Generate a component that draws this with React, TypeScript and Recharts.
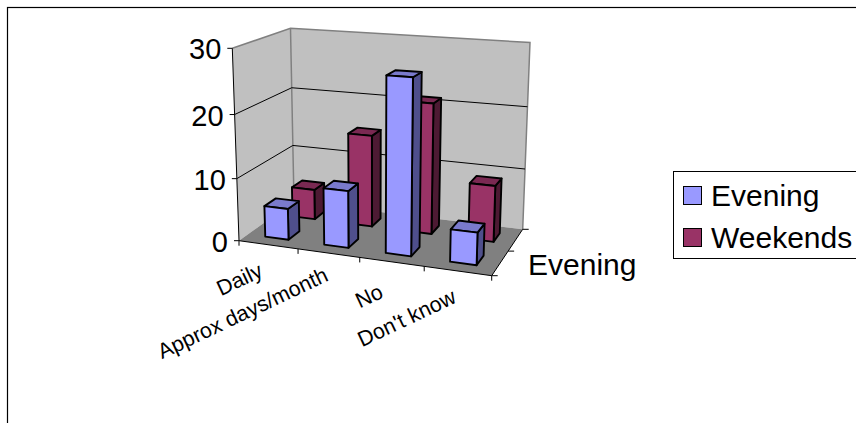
import React from "react";
import { ComposedChart, Bar, XAxis, YAxis, CartesianGrid, Legend } from "recharts";

const categories = ["Daily", "Approx days/month", "No", "Don't know"];
const eveningValues = [5, 9, 27, 5];
const weekendValues = [5, 15, 21, 9];
const valueTicks = [0, 10, 20, 30];
const seriesNames = ["Evening", "Weekends"];

const tableRows = categories.map((name, i) => ({
  name,
  Evening: eveningValues[i],
  Weekends: weekendValues[i],
}));

const W = 856, H = 423;
const PL = 100, PT = 50, PW = 600, PH = 300;
const PB = PT + PH;
const FONT = "'Liberation Sans', Arial, sans-serif";

// perspective frame of the 3-D box
const O = [239, 240.7], FR = [491.7, 275.7], BL = [294, 201.5], TL = [232.3, 48.3];
const A = -0.0851, B = 0.1165, C = -0.0478;

function project(u: number, v: number, w: number): [number, number] {
  const d = 1 + A * u + B * v + C * w;
  const f = (k: number) =>
    (O[k] +
      u * ((1 + A) * FR[k] - O[k]) +
      v * ((1 + B) * BL[k] - O[k]) +
      w * ((1 + C) * TL[k] - O[k])) / d;
  return [f(0), f(1)];
}
const pts = (list: number[][]) =>
  list.map((p) => project(p[0], p[1], p[2]).map((n) => n.toFixed(2)).join(",")).join(" ");

const toU = (x: number) => (x - PL) / PW;
const toW = (y: number) => (PB - y) / PH;

const palette: Record<string, { front: string; side: string; top: string; v0: number; v1: number }> = {
  Evening: { front: "#9999FF", side: "#4F4F8C", top: "#7A7ACC", v0: 0.15, v1: 0.35 },
  Weekends: { front: "#993366", side: "#4D1A33", top: "#7A2952", v0: 0.65, v1: 0.85 },
};

function Box3D(props: any) {
  const { x, y, width, height, dataKey } = props;
  const c = palette[dataKey];
  const u0 = toU(x), u1 = toU(x + width), w1 = toW(y), w0 = toW(y + height);
  const common = { stroke: "#000", strokeWidth: 1.9, strokeLinejoin: "round" as const };
  return (
    <g>
      <polygon points={pts([[u1, c.v0, w0], [u1, c.v1, w0], [u1, c.v1, w1], [u1, c.v0, w1]])} fill={c.side} {...common} />
      <polygon points={pts([[u0, c.v0, w1], [u1, c.v0, w1], [u1, c.v1, w1], [u0, c.v1, w1]])} fill={c.top} {...common} />
      <polygon points={pts([[u0, c.v0, w0], [u1, c.v0, w0], [u1, c.v0, w1], [u0, c.v0, w1]])} fill={c.front} {...common} />
    </g>
  );
}

function Walls() {
  return (
    <g>
      <polygon points={pts([[0, 0, 0], [0, 1, 0], [0, 1, 1], [0, 0, 1]])} fill="#C0C0C0" />
      <polygon points={pts([[0, 1, 0], [1, 1, 0], [1, 1, 1], [0, 1, 1]])} fill="#C0C0C0" />
      <polygon points={pts([[0, 0, 0], [1, 0, 0], [1, 1, 0], [0, 1, 0]])} fill="#808080" />
      <polyline points={pts([[0, 0, 1], [0, 1, 1], [1, 1, 1], [1, 1, 0]])} fill="none" stroke="#808080" strokeWidth={1.5} />
      <line
        x1={project(0, 1, 0)[0]} y1={project(0, 1, 0)[1]}
        x2={project(0, 1, 1)[0]} y2={project(0, 1, 1)[1]}
        stroke="#808080" strokeWidth={1.5}
      />
    </g>
  );
}

function SeriesAxis() {
  const ends = [0, 0.5, 1];
  return (
    <g>
      <polyline points={pts([[1, 0, 0], [1, 1, 0]])} fill="none" stroke="#000" strokeWidth={1} />
      {ends.map((v) => {
        const [px, py] = project(1, v, 0);
        return <line key={v} x1={px} y1={py} x2={px + 6} y2={py} stroke="#000" strokeWidth={1} />;
      })}
      <text x={528} y={275} fontFamily={FONT} fontSize={30} fill="#000">{seriesNames[0]}</text>
    </g>
  );
}

function gridLine(props: any) {
  const w = toW(props.y1);
  if (w <= 0.001 || w >= 0.999) return <g key={props.key} />;
  return (
    <polyline
      key={props.key}
      points={pts([[0, 0, w], [0, 1, w], [1, 1, w]])}
      fill="none"
      stroke="#000"
      strokeWidth={1}
    />
  );
}

function YTick(props: any) {
  const [px, py] = project(0, 0, toW(props.y));
  return (
    <g>
      <line x1={px - 5} y1={py} x2={px} y2={py} stroke="#000" strokeWidth={1} />
      <text x={px - 11} y={py + 11} textAnchor="end" fontFamily={FONT} fontSize={29} fill="#000">
        {props.payload.value}
      </text>
    </g>
  );
}

const labelShift = [[-4, 31], [1, 27], [-7, 35], [0, 31]];

function XTick(props: any) {
  const i = props.index;
  const uc = toU(props.x);
  const half = 1 / (2 * categories.length);
  const marks = i === categories.length - 1 ? [uc - half, uc + half] : [uc - half];
  const [cx, cy] = project(uc, 0, 0);
  const lx = cx + labelShift[i][0], ly = cy + labelShift[i][1];
  return (
    <g>
      {marks.map((m) => {
        const [px, py] = project(m, 0, 0);
        return <line key={m} x1={px} y1={py} x2={px} y2={py + 5} stroke="#000" strokeWidth={1} />;
      })}
      <text
        x={lx} y={ly}
        textAnchor="end"
        transform={`rotate(-25.3 ${lx} ${ly})`}
        fontFamily={FONT} fontSize={21.5} fill="#000"
      >
        {props.payload.value}
      </text>
    </g>
  );
}

const swatchTop = [186, 228];
const textTop = [179, 221];

function LegendBox() {
  return (
    <div
      style={{
        position: "absolute", left: 673, top: 171, width: 200, height: 86,
        borderTop: "1px solid #000", borderBottom: "1px solid #000", borderLeft: "1px solid #000", borderRight: "none",
        background: "#fff", boxSizing: "content-box",
        fontFamily: FONT, fontSize: 30, color: "#000",
      }}
    >
      {seriesNames.map((n, i) => (
        <React.Fragment key={n}>
          <span style={{ position: "absolute", left: 9, top: swatchTop[i] - 172, width: 17, height: 17, background: palette[n].front, border: "1.5px solid #000" }} />
          <span style={{ position: "absolute", left: 37, top: textTop[i] - 172, lineHeight: "34px", whiteSpace: "nowrap" }}>{n}</span>
        </React.Fragment>
      ))}
    </div>
  );
}

export default function App() {
  return (
    <div style={{ position: "fixed", left: 0, top: 0, width: W, height: H, overflow: "hidden", background: "#fff" }}>
      <ComposedChart
        width={W}
        height={H}
        data={tableRows}
        barSize={60}
        barGap={-60}
        margin={{ left: 60, right: W - PL - PW, top: PT, bottom: H - PB - 30 }}
      >
        <rect x={7.5} y={7.5} width={W} height={H} fill="#fff" stroke="#000" strokeWidth={1.2} />
        <Walls />
        <CartesianGrid horizontal={gridLine} vertical={false} zIndex={1} />
        <XAxis dataKey="name" height={30} axisLine={false} tickLine={false} interval={0} tick={XTick} />
        <YAxis width={40} domain={[0, 30]} ticks={valueTicks} axisLine={false} tickLine={false} tick={YTick} />
        <Bar dataKey="Weekends" isAnimationActive={false} shape={Box3D} />
        <Bar dataKey="Evening" isAnimationActive={false} shape={Box3D} />
        <line
          x1={project(0, 0, 0)[0]} y1={project(0, 0, 0)[1]}
          x2={project(0, 0, 1)[0]} y2={project(0, 0, 1)[1]}
          stroke="#000" strokeWidth={1}
        />
        <polyline points={pts([[0, 0, 0], [1, 0, 0]])} fill="none" stroke="#000" strokeWidth={1} />
        <SeriesAxis />
        <Legend content={LegendBox} wrapperStyle={{ left: 0, top: 0, width: 0, height: 0 }} />
      </ComposedChart>
    </div>
  );
}
